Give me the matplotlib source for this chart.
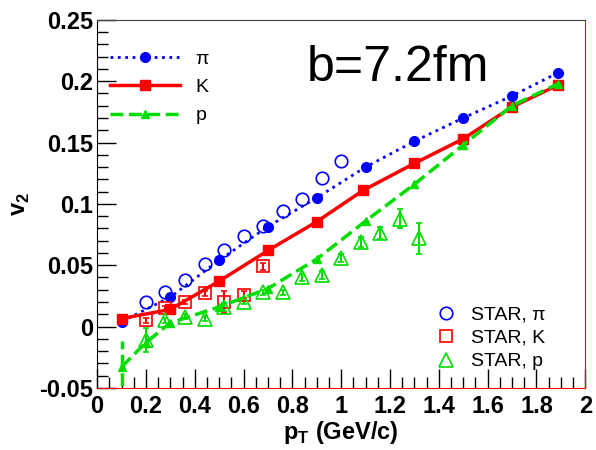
import numpy as np
import matplotlib.pyplot as plt
from matplotlib.ticker import MultipleLocator
from matplotlib.lines import Line2D

plt.rcParams['font.family'] = ['Liberation Sans', 'DejaVu Sans']

# model curves
pt_pi = [0.1, 0.3, 0.5, 0.7, 0.9, 1.1, 1.3, 1.5, 1.7, 1.89]
v2_pi = [0.004, 0.024, 0.054, 0.0815, 0.105, 0.130, 0.151, 0.170, 0.188, 0.207]

pt_k = [0.1, 0.3, 0.5, 0.7, 0.9, 1.09, 1.3, 1.5, 1.7, 1.89]
v2_k = [0.0065, 0.014, 0.037, 0.062, 0.0855, 0.111, 0.133, 0.153, 0.179, 0.197]

pt_p = [0.1, 0.2, 0.3, 0.5, 0.7, 0.9, 1.1, 1.3, 1.5, 1.7, 1.89]
v2_p = [-0.033, -0.013, 0.003, 0.016, 0.031, 0.055, 0.086, 0.116, 0.148, 0.180, 0.198]
err_p_lo = [0.03, 0.004, 0, 0, 0, 0, 0, 0, 0, 0, 0]
err_p_hi = [0.021, 0.004, 0, 0, 0, 0, 0, 0, 0, 0, 0]

# STAR data
star_pi_pt = [0.2, 0.28, 0.36, 0.44, 0.52, 0.6, 0.68, 0.76, 0.84, 0.92, 1.0]
star_pi_v2 = [0.020, 0.028, 0.038, 0.051, 0.062, 0.074, 0.082, 0.094, 0.104, 0.121, 0.135]

star_k_pt = [0.2, 0.28, 0.36, 0.44, 0.52, 0.6, 0.68]
star_k_v2 = [0.005, 0.015, 0.020, 0.027, 0.020, 0.026, 0.049]
star_k_err = [0.002, 0.002, 0.002, 0.002, 0.009, 0.003, 0.003]

star_p_pt = [0.2, 0.28, 0.36, 0.44, 0.52, 0.6, 0.68, 0.76, 0.84, 0.92, 1.0, 1.08, 1.16, 1.24, 1.32]
star_p_v2 = [-0.011, 0.005, 0.008, 0.0065, 0.016, 0.020, 0.028, 0.028, 0.040, 0.042, 0.056, 0.069, 0.076, 0.088, 0.072]
star_p_err = [0.010, 0.002, 0.002, 0.002, 0.003, 0.002, 0.002, 0.002, 0.003, 0.003, 0.003, 0.004, 0.005, 0.008, 0.0125]

green = '#00dd00'

fig = plt.figure(figsize=(5.96, 4.5), dpi=100)
ax = fig.add_axes([0.163, 0.138, 0.819, 0.818])

# STAR points
ax.plot(star_pi_pt, star_pi_v2, 'o', mfc='none', mec='blue', ms=9, mew=1.2, ls='none')
ax.errorbar(star_k_pt, star_k_v2, yerr=star_k_err, fmt='s', mfc='none', mec='red',
            ecolor='red', ms=9, mew=1.2, elinewidth=1.5, capsize=2)
ax.errorbar(star_p_pt, star_p_v2, yerr=star_p_err, fmt='^', mfc='none', mec=green,
            ecolor=green, ms=10, mew=1.2, elinewidth=1.5, capsize=2)

# model
l1, = ax.plot(pt_pi, v2_pi, ls=':', color='blue', lw=2, marker='o', ms=7)
l2, = ax.plot(pt_k, v2_k, ls='-', color='red', lw=2.5, marker='s', ms=7)
l3 = ax.errorbar(pt_p, v2_p, yerr=[err_p_lo, err_p_hi], ls='--', color=green, lw=2.5,
                 marker='^', ms=6, elinewidth=2.5, capsize=0)
l3[2][0].set_linestyle('--')

ax.set_xlim(0, 2)
ax.set_ylim(-0.05, 0.25)
ax.xaxis.set_minor_locator(MultipleLocator(0.05))
ax.yaxis.set_minor_locator(MultipleLocator(0.01))
ax.set_xticks(np.arange(0, 2.01, 0.2))
ax.set_xticklabels(['0', '0.2', '0.4', '0.6', '0.8', '1', '1.2', '1.4', '1.6', '1.8', '2'])
ax.set_yticks(np.arange(-0.05, 0.251, 0.05))
ax.set_yticklabels(['-0.05', '0', '0.05', '0.1', '0.15', '0.2', '0.25'])
ax.tick_params(which='both', direction='in', top=False, right=False, labelsize=17)
ax.tick_params(which='major', length=14, width=1)
ax.tick_params(which='minor', length=8, width=1)
for lab in ax.get_xticklabels() + ax.get_yticklabels():
    lab.set_fontweight('bold')
ax.tick_params(axis='x', pad=5)
ax.tick_params(axis='y', pad=3)

ax.spines['bottom'].set_color('red')
ax.spines['right'].set_color('red')
ax.spines['top'].set_color('#444444')

ax.set_xlabel('p$_\\mathregular{T}$ (GeV/c)', fontsize=17, fontweight='bold', labelpad=1)
ax.set_ylabel('v$_\\mathregular{2}$', fontsize=17, fontweight='bold', labelpad=5)

ax.text(0.86, 0.200, 'b=7.2fm', fontsize=36)

leg1 = ax.legend([l1, l2, l3[0]], ['π', 'K', 'p'], loc='upper left', bbox_to_anchor=(-0.01, 0.965),
                 frameon=False, fontsize=14, handlelength=3.6, labelspacing=0.55)
ax.add_artist(leg1)
h1 = Line2D([], [], ls='none', marker='o', mfc='none', mec='blue', ms=9, mew=1.2)
h2 = Line2D([], [], ls='none', marker='s', mfc='none', mec='red', ms=9, mew=1.2)
h3 = Line2D([], [], ls='none', marker='^', mfc='none', mec=green, ms=10, mew=1.2)
ax.legend([h1, h2, h3], ['STAR, π', 'STAR, K', 'STAR, p'], loc='lower right',
          bbox_to_anchor=(0.955, 0.0), frameon=False, fontsize=14, handlelength=1.0,
          labelspacing=0.3)

fig.savefig('out.png', dpi=100)
